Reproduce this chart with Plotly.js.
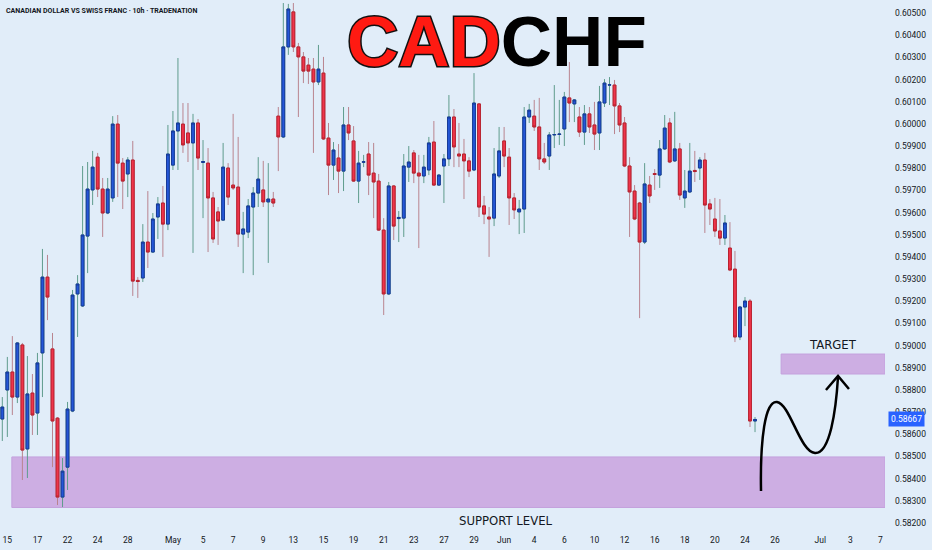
<!DOCTYPE html>
<html><head><meta charset="utf-8">
<script src="https://cdn.plot.ly/plotly-3.0.1.min.js"></script>
<style>html,body{margin:0;padding:0;background:#e1edf9;}#chart{width:932px;height:550px;}</style>
</head><body><div id="chart"></div>
<script>
// CADCHF 10h candles, Apr 14 – Jun 25 (3 bars per trading day)
const openP = [
0.58669,0.58800,0.58881,0.58768,0.59003,0.58534,0.58786,0.58696,0.58967,0.59309,
0.58985,0.58673,0.58317,0.58452,0.58705,0.59233,0.59179,0.59494,0.59702,0.59850,
0.59706,0.59598,0.59666,0.59999,0.59823,0.59774,0.59837,0.59294,0.59305,0.59467,
0.59422,0.59580,0.59643,0.59548,0.59814,0.59968,0.59999,0.59959,0.59914,0.60004,
0.59826,0.59823,0.59666,0.59603,0.59566,0.59801,0.59724,0.59715,0.59503,0.59512,
0.59625,0.59688,0.59702,0.59648,0.59661,0.60035,0.59941,0.60347,0.60505,0.60347,
0.60302,0.60265,0.60247,0.60189,0.60229,0.59936,0.59814,0.59846,0.59787,0.59995,
0.59923,0.59742,0.59827,0.59864,0.59778,0.59742,0.59521,0.59233,0.59720,0.59573,
0.59575,0.59805,0.59869,0.59778,0.59765,0.59792,0.59918,0.59724,0.59810,0.59842,
0.60031,0.59864,0.59864,0.59833,0.59792,0.60090,0.59630,0.59580,0.59575,0.59765,
0.59923,0.59850,0.59666,0.59603,0.59616,0.60031,0.60035,0.59986,0.59842,0.59855,
0.59950,0.59952,0.59977,0.60117,0.60090,0.60031,0.59963,0.60045,0.59995,0.59959,
0.60094,0.60175,0.60175,0.60081,0.60004,0.59810,0.59697,0.59643,0.59467,0.59724,
0.59776,0.59769,0.59887,0.60004,0.59833,0.59887,0.59666,0.59693,0.59790,0.59801,
0.59837,0.59639,0.59571,0.59517,0.59485,0.59440,0.59345,0.59039,0.59174,0.59201,
0.58660];
const highP = [
0.58768,0.58949,0.59043,0.59016,0.59012,0.58953,0.58872,0.58967,0.59436,0.59409,
0.59057,0.58678,0.58493,0.58746,0.59251,0.59318,0.59810,0.59828,0.59878,0.59869,
0.59756,0.59756,0.60035,0.60040,0.59846,0.59850,0.59923,0.59309,0.59548,0.59697,
0.59598,0.59670,0.59720,0.59995,0.60058,0.60297,0.60094,0.60094,0.60045,0.60022,
0.59927,0.59891,0.59693,0.59625,0.59914,0.59823,0.60045,0.59941,0.59603,0.59661,
0.59715,0.59850,0.59833,0.59823,0.59693,0.60076,0.60545,0.60541,0.60545,0.60365,
0.60324,0.60297,0.60297,0.60356,0.60302,0.60004,0.59918,0.59909,0.60076,0.60076,
0.59990,0.59878,0.59860,0.59918,0.59914,0.59774,0.59575,0.59738,0.59724,0.59607,
0.59864,0.59900,0.59882,0.59860,0.59860,0.59941,0.60013,0.59774,0.59864,0.60130,
0.60067,0.60004,0.59932,0.59850,0.60229,0.60094,0.59675,0.59625,0.59891,0.59986,
0.59986,0.59891,0.59688,0.59657,0.60076,0.60090,0.60108,0.60117,0.59914,0.59963,
0.60175,0.60108,0.60144,0.60279,0.60112,0.60076,0.60085,0.60076,0.60099,0.60171,
0.60202,0.60211,0.60198,0.60094,0.60031,0.59850,0.59724,0.59648,0.59823,0.59765,
0.59796,0.59927,0.60040,0.60026,0.60054,0.59914,0.59792,0.59914,0.59878,0.59850,
0.59869,0.59661,0.59666,0.59661,0.59589,0.59557,0.59427,0.59179,0.59219,0.59210,
0.58678];
const lowP = [
0.58570,0.58588,0.58687,0.58741,0.58394,0.58403,0.58597,0.58597,0.58768,0.59115,
0.58452,0.58281,0.58272,0.58349,0.58700,0.59039,0.59174,0.59327,0.59634,0.59670,
0.59490,0.59593,0.59648,0.59670,0.59616,0.59670,0.59224,0.59215,0.59287,0.59350,
0.59418,0.59481,0.59400,0.59521,0.59792,0.59792,0.59869,0.59828,0.59418,0.59792,
0.59575,0.59422,0.59463,0.59454,0.59562,0.59634,0.59702,0.59445,0.59327,0.59485,
0.59318,0.59625,0.59625,0.59373,0.59625,0.59787,0.59936,0.60311,0.60324,0.60031,
0.60184,0.60180,0.59869,0.60175,0.59927,0.59679,0.59747,0.59688,0.59697,0.59927,
0.59738,0.59643,0.59805,0.59679,0.59575,0.59517,0.59138,0.59228,0.59476,0.59467,
0.59490,0.59738,0.59733,0.59440,0.59733,0.59769,0.59720,0.59720,0.59643,0.59810,
0.59805,0.59805,0.59661,0.59760,0.59787,0.59580,0.59548,0.59400,0.59539,0.59756,
0.59805,0.59544,0.59571,0.59503,0.59508,0.60004,0.59968,0.59792,0.59819,0.59792,
0.59891,0.59905,0.59900,0.60008,0.60008,0.59941,0.59905,0.59959,0.59882,0.59882,
0.60076,0.60085,0.59954,0.59963,0.59805,0.59490,0.59566,0.59124,0.59458,0.59643,
0.59702,0.59711,0.59882,0.59823,0.59828,0.59657,0.59621,0.59688,0.59738,0.59747,
0.59508,0.59544,0.59490,0.59454,0.59454,0.59336,0.59016,0.59025,0.59088,0.58633,
0.58610];
const closeP = [
0.58723,0.58881,0.58768,0.59012,0.58529,0.58782,0.58687,0.58922,0.59309,0.59219,
0.58660,0.58317,0.58434,0.58714,0.59228,0.59278,0.59499,0.59706,0.59805,0.59706,
0.59598,0.59706,0.59999,0.59823,0.59742,0.59837,0.59291,0.59289,0.59467,0.59422,
0.59571,0.59639,0.59548,0.59864,0.59968,0.60004,0.59905,0.59914,0.60004,0.59846,
0.59830,0.59666,0.59481,0.59562,0.59805,0.59670,0.59711,0.59503,0.59526,0.59630,
0.59688,0.59751,0.59648,0.59661,0.59643,0.59941,0.60347,0.60518,0.60347,0.60302,
0.60238,0.60238,0.60189,0.60247,0.59932,0.59814,0.59882,0.59787,0.59995,0.59959,
0.59742,0.59823,0.59829,0.59769,0.59738,0.59521,0.59233,0.59720,0.59539,0.59578,
0.59810,0.59828,0.59778,0.59765,0.59805,0.59914,0.59724,0.59769,0.59842,0.60031,
0.59896,0.59855,0.59833,0.59787,0.60094,0.59625,0.59593,0.59571,0.59774,0.59878,
0.59855,0.59666,0.59612,0.59616,0.60031,0.60062,0.59986,0.59842,0.59828,0.59950,
0.59952,0.59954,0.60121,0.60094,0.60108,0.59963,0.60045,0.59986,0.59954,0.60099,
0.60184,0.60176,0.60081,0.59995,0.59810,0.59693,0.59571,0.59467,0.59729,0.59675,
0.59772,0.59887,0.59981,0.59828,0.59887,0.59679,0.59697,0.59787,0.59785,0.59837,
0.59634,0.59616,0.59517,0.59485,0.59553,0.59341,0.59039,0.59174,0.59201,0.58660,
0.58667];

// time-axis labels (bar index of the first bar of the labelled day)
const tickIdx  = [1,7,13,19,25,34,40,46,52,58,64,70,76,82,88,94,100,106,112,118,124,130,136,142,148,154,163,169,175];
const tickText = ['15','17','22','24','28','May','5','7','9','13','15','19','21','23','27','29','Jun','4','6','10','12','16','18','20','24','26','Jul','3','7'];

// zones
const supportZone = [0.58270, 0.58498];
const targetZone  = [0.58872, 0.58962];
const lastPrice = 0.58667;

const idx = openP.map((_, i) => i);
const bodyHi = openP.map((o, i) => Math.max(o, closeP[i]));
const bodyLo = openP.map((o, i) => Math.min(o, closeP[i]));

const XR = [-0.46, 175.9];
const PW = 885, PH = 530;
const px = x => (x / PW).toFixed(4);
const py = y => (1 - y / PH).toFixed(4);

const UP = '#2457d8', DN = '#ef344b';

const wicks = {
  type: 'candlestick', x: idx, open: openP, high: highP, low: lowP, close: closeP,
  whiskerwidth: 0, hoverinfo: 'skip', showlegend: false,
  increasing: {line: {color: '#5f9c8d', width: 1}, fillcolor: UP},
  decreasing: {line: {color: '#b9848f', width: 1}, fillcolor: DN}
};
const bodies = {
  type: 'candlestick', x: idx, open: openP, high: bodyHi, low: bodyLo, close: closeP,
  whiskerwidth: 0, hoverinfo: 'skip', showlegend: false,
  increasing: {line: {color: '#173a98', width: 1}, fillcolor: UP},
  decreasing: {line: {color: '#b8222f', width: 1}, fillcolor: DN}
};

const arrowPath = `M${px(761)},${py(491)} C${px(760)},${py(440)} ${px(765)},${py(400)} ${px(777)},${py(402)} ` +
  `C${px(790)},${py(404)} ${px(800)},${py(452)} ${px(815)},${py(453)} ` +
  `C${px(830)},${py(454)} ${px(836)},${py(410)} ${px(838)},${py(377)}`;
const headPath = `M${px(826)},${py(390)} L${px(838)},${py(376)} L${px(849)},${py(389)}`;

const axisFont = {family: 'Roboto, "Open Sans", sans-serif', size: 8.5, color: '#131722'};
const labelFont = {family: '"Liberation Sans Narrow", "DejaVu Sans Condensed", sans-serif', size: 13, color: '#131722'};

const layout = {
  width: 932, height: 550,
  margin: {l: 0, r: 47, t: 0, b: 20, pad: 0},
  paper_bgcolor: '#e1edf9', plot_bgcolor: '#e1edf9',
  showlegend: false, boxgap: 0.2, dragmode: false,
  xaxis: {
    range: XR, tickmode: 'array', tickvals: tickIdx, ticktext: tickText,
    showgrid: false, zeroline: false, showline: false, ticks: '',
    ticklabelstandoff: 3,
    tickfont: axisFont, rangeslider: {visible: false}, fixedrange: true
  },
  yaxis: {
    side: 'right', range: [0.581685, 0.605586], tick0: 0.582, dtick: 0.001,
    tickformat: '.5f', showgrid: false, zeroline: false, showline: false, ticks: '',
    ticklabelstandoff: 9, tickfont: axisFont, fixedrange: true
  },
  shapes: [
    {type: 'rect', layer: 'below', xref: 'x', yref: 'y', x0: 1.9, x1: XR[1],
     y0: supportZone[0], y1: supportZone[1], fillcolor: '#cdaee3', line: {color: '#c4a1dd', width: 1}},
    {type: 'rect', layer: 'below', xref: 'x', yref: 'y', x0: 155.2, x1: XR[1],
     y0: targetZone[0], y1: targetZone[1], fillcolor: '#cdaee3', line: {color: '#c4a1dd', width: 1}},
    {type: 'path', xref: 'paper', yref: 'paper', path: arrowPath, line: {color: '#000000', width: 2.5}},
    {type: 'path', xref: 'paper', yref: 'paper', path: headPath, line: {color: '#000000', width: 2.5}}
  ],
  annotations: [
    {xref: 'paper', yref: 'paper', x: px(497), y: py(42), xanchor: 'center', yanchor: 'middle', showarrow: false,
     text: '<span style="color:#ff1a12;stroke:#111111;stroke-width:3px;paint-order:stroke">CAD</span><span style="color:#000000">CHF</span>',
     font: {family: '"Liberation Sans", Arial, sans-serif', size: 71, weight: 'bold', color: '#000000'}},
    {xref: 'paper', yref: 'paper', x: px(4), y: py(11), xanchor: 'left', yanchor: 'middle', showarrow: false,
     text: 'CANADIAN DOLLAR VS SWISS FRANC · 10h · TRADENATION',
     font: {family: 'Roboto, sans-serif', size: 7, weight: 'bold', color: '#131722'}},
    {xref: 'x', yref: 'y', x: 165.5, y: 0.59005, showarrow: false, text: 'TARGET', font: labelFont},
    {xref: 'x', yref: 'y', x: 100.4, y: 0.58210, showarrow: false, text: 'SUPPORT LEVEL', font: labelFont},
    {xref: 'paper', yref: 'y', x: 1, xshift: 3, y: lastPrice, xanchor: 'left', yanchor: 'middle', showarrow: false,
     text: lastPrice.toFixed(5), bgcolor: '#2962ff', borderpad: 2,
     font: {family: 'Roboto, sans-serif', size: 8.5, color: '#ffffff'}}
  ]
};

Plotly.newPlot('chart', [wicks, bodies], layout, {displayModeBar: false, staticPlot: true});
</script>
</body></html>
